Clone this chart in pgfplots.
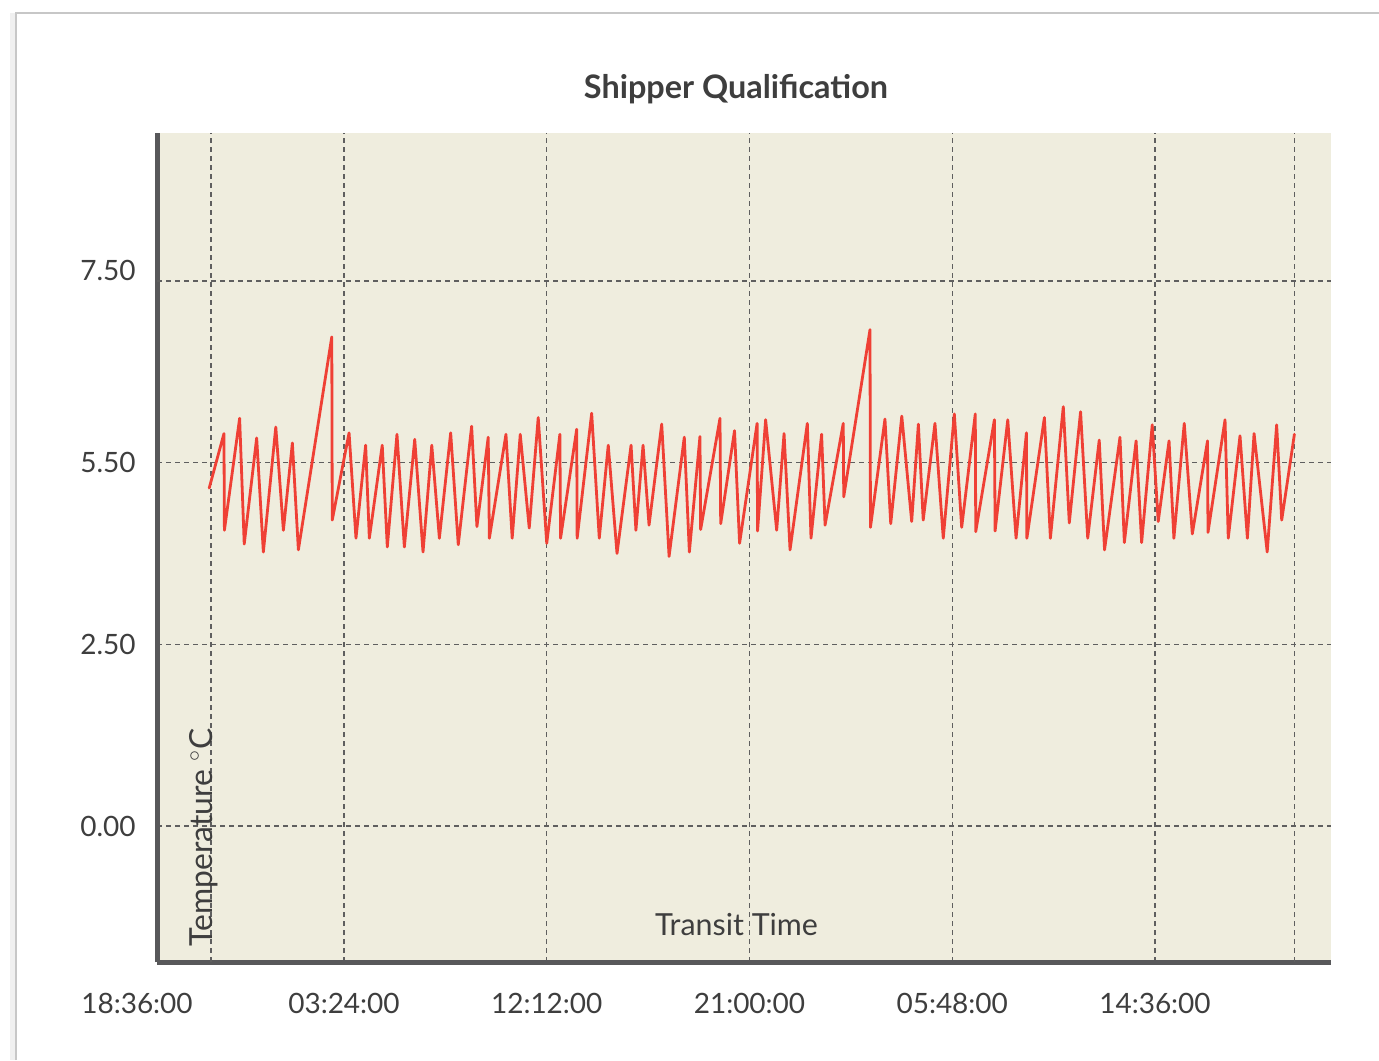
\documentclass[border=0pt]{standalone}
\usepackage{fontspec}
\setmainfont{Lato}
\usepackage{pgfplots}
\pgfplotsset{compat=1.18}
\definecolor{cream}{RGB}{239,237,222}
\definecolor{axisgray}{RGB}{88,88,90}
\definecolor{gridgray}{RGB}{95,95,95}
\definecolor{linered}{RGB}{239,64,53}
\definecolor{txt}{RGB}{62,62,62}
\pgfplotstableread{
h T
2.95 4.65
3.59 5.40
3.61 4.07
4.27 5.61
4.47 3.88
5.01 5.34
5.30 3.77
5.84 5.49
6.17 4.07
6.56 5.27
6.82 3.80
8.27 6.73
8.29 4.21
9.02 5.41
9.32 3.96
9.74 5.24
9.90 3.96
10.46 5.24
10.68 3.84
11.10 5.39
11.42 3.84
11.87 5.32
12.23 3.77
12.61 5.24
12.94 3.96
13.43 5.41
13.76 3.87
14.34 5.50
14.57 4.12
15.06 5.35
15.11 3.96
15.83 5.39
16.10 3.96
16.45 5.39
16.84 4.10
17.23 5.62
17.60 3.89
18.17 5.39
18.20 3.96
18.90 5.46
18.92 3.96
19.55 5.68
19.88 3.96
20.27 5.24
20.65 3.75
21.26 5.24
21.47 4.07
21.78 5.24
22.04 4.14
22.59 5.53
22.91 3.71
23.57 5.35
23.79 3.77
24.25 5.36
24.28 4.08
25.12 5.61
25.15 4.16
25.75 5.44
25.97 3.89
26.73 5.54
26.75 4.06
27.10 5.59
27.58 4.07
27.90 5.40
28.16 3.80
28.91 5.54
29.07 3.96
29.53 5.39
29.68 4.14
30.47 5.54
30.49 4.53
31.63 6.83
31.65 4.11
32.28 5.60
32.53 4.16
33.01 5.64
33.44 4.19
33.73 5.53
33.94 4.21
34.45 5.54
34.81 3.96
35.29 5.67
35.61 4.11
36.20 5.67
36.22 4.05
37.03 5.59
37.06 4.06
37.61 5.59
37.97 3.96
38.42 5.41
38.44 3.96
39.20 5.62
39.46 3.96
40.02 5.77
40.28 4.17
40.77 5.70
41.08 3.96
41.58 5.31
41.81 3.80
42.48 5.35
42.67 3.90
43.18 5.30
43.42 3.90
43.88 5.52
44.14 4.19
44.61 5.30
44.82 3.96
45.27 5.54
45.62 4.02
46.28 5.30
46.30 4.04
47.04 5.59
47.18 3.96
47.69 5.37
48.01 3.96
48.30 5.40
48.87 3.77
49.28 5.52
49.50 4.21
50.05 5.39
}\shipper
\begin{document}
\begin{tikzpicture}
\useasboundingbox (0,0) rectangle (689.5pt,530pt);
\fill[white] (0,0) rectangle (689.5pt,530pt);
\fill[black!6] (5pt,0) rectangle (8pt,523.5pt);
\draw[black!22, line width=0.6pt] (8pt,0) -- (8pt,523.5pt) -- (689.5pt,523.5pt);
\begin{axis}[
  at={(78.5pt,49pt)}, anchor=south west,
  scale only axis, width=587pt, height=414.5pt,
  xmin=0.684, xmax=51.64, ymin=-1.871, ymax=9.536,
  axis background/.style={fill=cream},
  axis x line*=bottom, axis y line*=left,
  axis line style={line width=2.5pt, color=axisgray, -},
  every extra x tick/.style={},
  every extra y tick/.style={},
  xtick={8.8,17.6,26.4,35.2,44},
  xticklabels={03:24:00,12:12:00,21:00:00,05:48:00,14:36:00},
  ytick={0,2.5,5},
  yticklabels={0.00,2.50,5.50},
  extra y ticks={7.5}, extra y tick labels={7.50},
  extra y tick style={grid=major, yticklabel style={yshift=5pt}},
  extra x ticks={3.03,50.05}, extra x tick labels={,},
  extra x tick style={grid=major},
  major tick length=0pt,
  grid=major,
  major grid style={gridgray, line width=0.6pt, dash pattern=on 2.5pt off 2pt},
  xticklabel style={anchor=north, inner sep=0pt, yshift=-15.5pt, font=\fontsize{14}{16}\selectfont, text=txt},
  yticklabel style={anchor=west, inner sep=0pt, xshift=-38.5pt, font=\fontsize{14}{16}\selectfont, text=txt},
]
\addplot[linered, line width=1.4pt, line join=round, line cap=round] table[x=h, y=T] {\shipper};
\end{axis}
\node[anchor=base, inner sep=0pt, font=\bfseries\fontsize{16.2}{19}\selectfont, text=txt] at (368pt,480.5pt) {Shipper Qualification};
\node[anchor=base, inner sep=0pt, font=\fontsize{15.2}{18}\selectfont, text=txt] at (368.25pt,62.5pt) {Transit Time};
\node[anchor=base west, rotate=90, inner sep=0pt, font=\fontsize{15.9}{18}\selectfont, text=txt] at (106.35pt,56.65pt) {Temperature $^{\circ}$C};
\node[anchor=base, inner sep=0pt, font=\fontsize{14}{16}\selectfont, text=txt] at (68.5pt,23.5pt) {18:36:00};
\end{tikzpicture}
\end{document}
